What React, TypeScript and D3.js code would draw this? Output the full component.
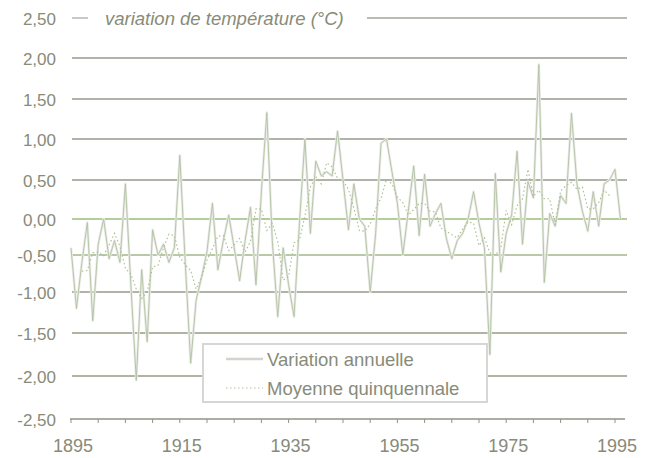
import React, { useEffect, useRef } from 'react';
import { select, scaleLinear, line, range, format } from 'd3';

// valeurs (°C)
const firstYear = 1895;
const annualValues = [
  -0.4, -1.2, -0.6, -0.05, -1.35, -0.35, 0.0, -0.55, -0.3, -0.6,
  0.45, -0.9, -2.05, -0.7, -1.6, -0.15, -0.5, -0.35, -0.6, -0.4,
  0.8, -0.6, -1.85, -1.1, -0.8, -0.45, 0.2, -0.7, -0.3, 0.05,
  -0.4, -0.85, -0.3, 0.15, -0.9, 0.35, 1.33, -0.3, -1.3, -0.4,
  -0.9, -1.3, -0.05, 1.0, -0.2, 0.73, 0.55, 0.6, 0.55, 1.1,
  0.5, -0.15, 0.45, 0.0, -0.1, -1.0, -0.2, 0.95, 1.0, 0.6,
  0.2, -0.5, 0.1, 0.67, -0.23, 0.57, -0.1, 0.07, 0.2, -0.27,
  -0.55, -0.3, -0.2, 0.0, 0.35, -0.06, -0.4, -1.75, 0.58, -0.73,
  -0.2, 0.05, 0.85, -0.35, 0.48, 0.27, 1.92, -0.87, 0.07, -0.1,
  0.3, 0.2, 1.32, 0.45, 0.1, -0.17, 0.35, -0.1, 0.45, 0.5,
  0.63, 0.0
];

const meanFirstYear = 1897;
const meanValues = [
  -0.72, -0.71, -0.47, -0.46, -0.51, -0.36, -0.2, -0.38, -0.68, -0.76,
  -0.96, -1.08, -1.0, -0.66, -0.64, -0.4, -0.21, -0.23, -0.53, -0.63,
  -0.71, -0.96, -0.8, -0.57, -0.41, -0.24, -0.23, -0.44, -0.36, -0.27,
  -0.46, -0.31, 0.13, 0.13, -0.16, -0.06, -0.31, -0.84, -0.79, -0.33,
  -0.29, 0.04, 0.41, 0.54, 0.45, 0.71, 0.66, 0.52, 0.49, 0.38,
  0.14, -0.16, -0.17, -0.07, 0.13, 0.27, 0.51, 0.45, 0.28, 0.21,
  0.05, 0.12, 0.2, 0.2, 0.1, 0.09, -0.13, -0.17, -0.22, -0.26,
  -0.14, -0.04, -0.06, -0.37, -0.26, -0.47, -0.5, -0.41, 0.11, -0.08,
  0.17, 0.26, 0.63, 0.29, 0.37, 0.26, 0.26, -0.08, 0.36, 0.43,
  0.47, 0.38, 0.41, 0.13, 0.13, 0.21, 0.37, 0.3
];

const yTicks = [2.5, 2, 1.5, 1, 0.5, 0, -0.5, -1, -1.5, -2, -2.5];
const yearLabels = [1895, 1915, 1935, 1955, 1975, 1995];
const titleText = 'variation de température (°C)';
const legendLabels = ['Variation annuelle', 'Moyenne quinquennale'];

const textColor = '#888b79';
const gridColor = (v: number) => {
  if (v === 0) return '#9dbd78';
  if (v === -0.5) return '#a2b68a';
  if (v === -1.5 || v === -2) return '#939d83';
  return '#979a8c';
};

const App = () => {
  const svgRef = useRef<SVGSVGElement>(null);

  useEffect(() => {
    const svg = select(svgRef.current);
    svg.selectAll('*').remove();

    const xScale = scaleLinear().domain([1895, 1995]).range([71, 615]);
    // échelle par morceaux : le scan n'est pas tout à fait régulier
    const yScale = scaleLinear()
      .domain(yTicks)
      .range([18, 58, 99, 139, 180, 219, 255, 292, 333, 376, 419]);

    const fmt = (v: number) => format('.2f')(v).replace('.', ',').replace('−', '-');
    const font = "'Liberation Sans', Arial, sans-serif";

    // lignes de grille
    const grid = svg.append('g');
    yTicks.filter(v => v !== 2.5 && v !== -2.5).forEach(v => {
      grid.append('line')
        .attr('x1', 72).attr('x2', 627)
        .attr('y1', yScale(v)).attr('y2', yScale(v))
        .attr('stroke', gridColor(v))
        .attr('stroke-width', 1.6);
    });

    // ligne du haut avec le titre
    const topY = yScale(2.5);
    grid.append('line').attr('x1', 72).attr('x2', 88)
      .attr('y1', topY).attr('y2', topY)
      .attr('stroke', '#a3a598').attr('stroke-width', 1.2);
    grid.append('line').attr('x1', 367).attr('x2', 627)
      .attr('y1', topY).attr('y2', topY)
      .attr('stroke', '#a3a598').attr('stroke-width', 1.4);
    svg.append('text')
      .attr('x', 105).attr('y', topY + 6.5)
      .attr('font-family', font).attr('font-size', 18.5)
      .attr('font-style', 'italic')
      .attr('fill', textColor)
      .text(titleText);

    // étiquettes de l'axe vertical
    svg.append('g').selectAll('text')
      .data(yTicks)
      .join('text')
      .attr('x', 56)
      .attr('y', d => yScale(d) + 6.5)
      .attr('text-anchor', 'end')
      .attr('font-family', font).attr('font-size', 17)
      .attr('fill', textColor)
      .text(d => fmt(d));

    // axe horizontal
    const axisY = yScale(-2.5);
    const axis = svg.append('g');
    axis.append('line')
      .attr('x1', 70).attr('x2', 625)
      .attr('y1', axisY).attr('y2', axisY)
      .attr('stroke', '#8f9483').attr('stroke-width', 1.5);
    axis.selectAll('.tick')
      .data(range(1895, 2000, 5))
      .join('line')
      .attr('class', 'tick')
      .attr('x1', d => xScale(d)).attr('x2', d => xScale(d))
      .attr('y1', axisY).attr('y2', axisY + 4)
      .attr('stroke', '#8f9483').attr('stroke-width', 1);
    axis.selectAll('.lbl')
      .data(yearLabels)
      .join('text')
      .attr('class', 'lbl')
      .attr('x', d => xScale(d) + 2)
      .attr('y', 452)
      .attr('text-anchor', 'middle')
      .attr('font-family', font).attr('font-size', 18)
      .attr('fill', textColor)
      .text(d => d);

    // courbes
    const annual = annualValues.map((v, i) => [firstYear + i, v] as [number, number]);
    const mean = meanValues.map((v, i) => [meanFirstYear + i, v] as [number, number]);
    const path = line<[number, number]>()
      .x(d => xScale(d[0]))
      .y(d => yScale(d[1]));

    svg.append('path')
      .attr('d', path(annual))
      .attr('fill', 'none')
      .attr('stroke', '#ebebe9')
      .attr('stroke-width', 2.6)
      .attr('stroke-linejoin', 'round');
    svg.append('path')
      .attr('d', path(mean))
      .attr('fill', 'none')
      .attr('stroke', '#a7bf8a')
      .attr('stroke-width', 1.1)
      .attr('stroke-dasharray', '1.5,2.5');
    svg.append('path')
      .attr('d', path(annual))
      .attr('fill', 'none')
      .attr('stroke', '#b1c2a0')
      .attr('stroke-width', 0.9)
      .attr('stroke-linejoin', 'round');

    // légende
    const lg = svg.append('g');
    lg.append('rect')
      .attr('x', 203).attr('y', 344)
      .attr('width', 284).attr('height', 58)
      .attr('fill', '#ffffff')
      .attr('stroke', '#d6d6d4').attr('stroke-width', 2);
    lg.append('line')
      .attr('x1', 226).attr('x2', 263).attr('y1', 359).attr('y2', 359)
      .attr('stroke', '#d3d4cf').attr('stroke-width', 2.5);
    lg.append('line')
      .attr('x1', 226).attr('x2', 263).attr('y1', 388).attr('y2', 388)
      .attr('stroke', '#b4c2a4').attr('stroke-width', 1.1)
      .attr('stroke-dasharray', '1.5,2.5');
    lg.selectAll('text')
      .data(legendLabels)
      .join('text')
      .attr('x', 267)
      .attr('y', (d, i) => 366 + i * 29)
      .attr('font-family', font).attr('font-size', 18.5)
      .attr('fill', textColor)
      .text(d => d);
  }, []);

  return (
    <svg
      ref={svgRef}
      width={651}
      height={458}
      style={{ position: 'absolute', left: 0, top: 0, background: '#ffffff' }}
    />
  );
};

export default App;
